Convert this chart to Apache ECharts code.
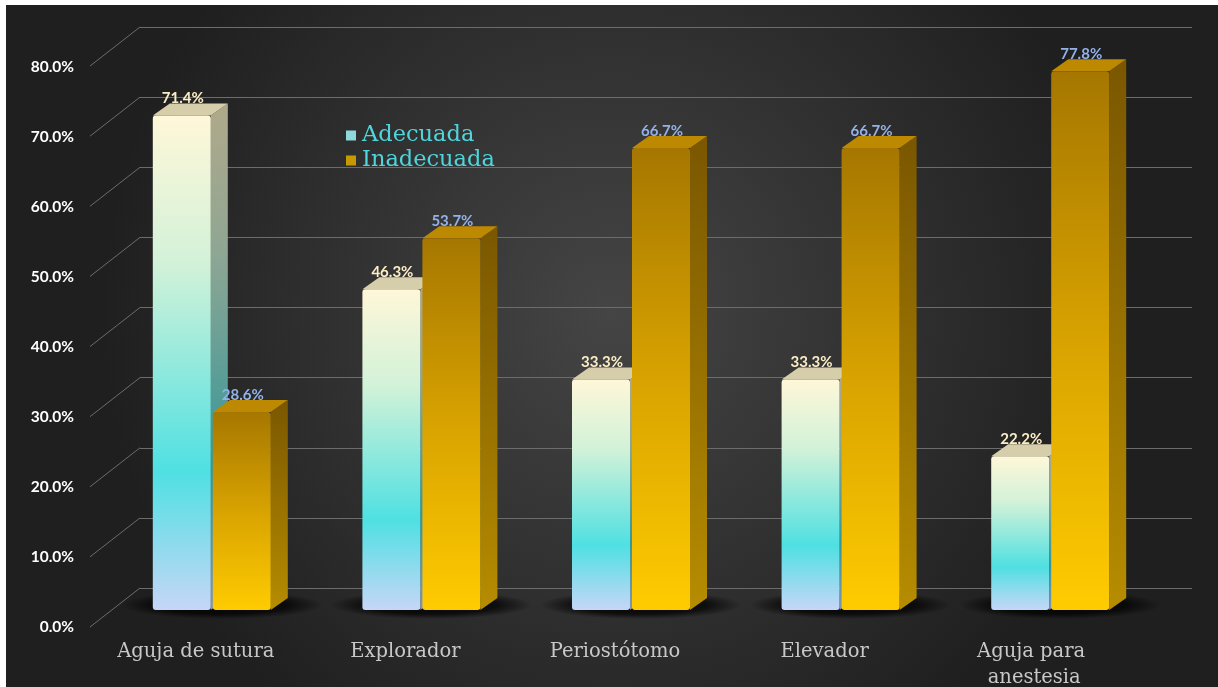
<!DOCTYPE html>
<html>
<head>
<meta charset="utf-8">
<script src="https://cdn.jsdelivr.net/npm/echarts@6/dist/echarts.min.js"></script>
<style>
  html, body { margin: 0; padding: 0; background: #ffffff; }
  #chart { width: 1218px; height: 687px; }
</style>
</head>
<body>
<div id="chart"></div>
<script>
// Instrument ratings (percent of responses)
const categories = ['Aguja de sutura', 'Explorador', 'Periostótomo', 'Elevador', 'Aguja para anestesia'];
const adecuada = [71.4, 46.3, 33.3, 33.3, 22.2];
const inadecuada = [28.6, 53.7, 66.7, 66.7, 77.8];
const seriesNames = ['Adecuada', 'Inadecuada'];
const gridTicks = [0, 10, 20, 30, 40, 50, 60, 70, 80];

const chart = echarts.init(document.getElementById('chart'), null, { renderer: 'canvas' });
const LG = echarts.graphic.LinearGradient;
const RG = echarts.graphic.RadialGradient;

// bar box geometry
const BAR_W = 58, DEPTH_X = 17, DEPTH_Y = 12;

const faces = [
  {
    front: [[0, '#fff7d8'], [0.3, '#d2f2d8'], [0.72, '#4fe0e2'], [1, '#c6d6f7']],
    side:  [[0, '#b0a98a'], [0.3, '#8ea694'], [0.72, '#35979a'], [1, '#8294b0']],
    top: '#d6ceab',
    label: '#fbeec6'
  },
  {
    front: [[0, '#a67700'], [0.5, '#d8a300'], [1, '#ffcb00']],
    side:  [[0, '#7a5700'], [1, '#b68c00']],
    top: '#bc8900',
    label: '#93b2ea'
  }
];

function barItem(k) {
  const f = faces[k];
  return function (params, api) {
    const idx = api.value(0);
    const v = api.value(1);
    const base = api.coord([idx, 0]);
    const topP = api.coord([idx, v]);
    const x0 = k === 0 ? base[0] - BAR_W - 1 : base[0] + 1;
    const x1 = x0 + BAR_W;
    const yb = base[1], yt = topP[1];
    return {
      type: 'group',
      children: [
        {
          type: 'polygon',
          shape: { points: [[x1, yt], [x1 + DEPTH_X, yt - DEPTH_Y], [x1 + DEPTH_X, yb - DEPTH_Y], [x1, yb]] },
          style: { fill: new LG(0, 0, 0, 1, f.side.map(s => ({ offset: s[0], color: s[1] }))) }
        },
        {
          type: 'polygon',
          shape: { points: [[x0, yt], [x0 + DEPTH_X, yt - DEPTH_Y], [x1 + DEPTH_X, yt - DEPTH_Y], [x1, yt]] },
          style: { fill: f.top }
        },
        {
          type: 'rect',
          shape: { x: x0, y: yt, width: BAR_W, height: yb - yt, r: 3 },
          style: { fill: new LG(0, 0, 0, 1, f.front.map(s => ({ offset: s[0], color: s[1] }))) }
        },
        {
          type: 'text',
          x: x0 + BAR_W / 2 + 1,
          y: yt - 17,
          style: {
            text: v.toFixed(1) + '%',
            fill: f.label,
            font: 'bold 15px Lato, "Open Sans", sans-serif',
            align: 'center',
            verticalAlign: 'middle'
          }
        }
      ]
    };
  };
}

// soft floor shadow under each pair of bars (a round gradient stretched sideways)
function shadowItem(params, api) {
  const base = api.coord([api.value(0), 0]);
  return {
    type: 'circle',
    x: base[0] + 10, y: base[1] - 5,
    scaleX: 7.2, scaleY: 1,
    shape: { cx: 0, cy: 0, r: 14 },
    style: {
      fill: new RG(0.5, 0.5, 0.5, [
        { offset: 0, color: 'rgba(0,0,0,0.9)' },
        { offset: 0.65, color: 'rgba(0,0,0,0.7)' },
        { offset: 1, color: 'rgba(0,0,0,0)' }
      ])
    }
  };
}

// diagonal lines joining the front tick marks to the back wall
function diagItem(params, api) {
  const p = api.coord([0, api.value(0)]);
  return {
    type: 'line',
    shape: { x1: p[0], y1: p[1], x2: p[0] - 50, y2: p[1] + 39 },
    style: { stroke: '#6c6c6c', lineWidth: 1 }
  };
}

const option = {
  backgroundColor: '#ffffff',
  animation: false,
  graphic: [{
    type: 'rect', z: -10, silent: true,
    shape: { x: 6, y: 5, width: 1212, height: 682 },
    style: {
      fill: new RG(0.5, 0.45, 0.75, [
        { offset: 0, color: '#454545' },
        { offset: 1, color: '#1f1f1f' }
      ])
    }
  }],
  legend: {
    data: seriesNames,
    orient: 'vertical',
    left: 341, top: 119,
    itemWidth: 10, itemHeight: 10, itemGap: 2,
    icon: 'rect',
    textStyle: { color: '#4fd6dc', fontFamily: '"DejaVu Serif", serif', fontSize: 22.5, lineHeight: 20, padding: [0, 0, 0, 1] }
  },
  grid: [
    { left: 91, right: 79, top: 67, bottom: 60, outerBoundsMode: 'none' },   // front plane (labels)
    { left: 140, right: 26, top: 27, bottom: 99, outerBoundsMode: 'none' },  // back wall
    { left: 107, right: 63, top: 56, bottom: 77, outerBoundsMode: 'none' }   // bars
  ],
  xAxis: [
    {
      gridIndex: 0, type: 'category', data: categories,
      axisLine: { show: false }, axisTick: { show: false }, splitLine: { show: false },
      axisLabel: {
        interval: 0, margin: 12, color: '#c8c8c8',
        fontFamily: '"DejaVu Serif", serif', fontSize: 19.5, lineHeight: 26,
        width: 172, overflow: 'break'
      }
    },
    { gridIndex: 1, type: 'value', min: 0, max: 1, show: false },
    { gridIndex: 2, type: 'category', data: categories, show: false }
  ],
  yAxis: [
    {
      gridIndex: 0, type: 'value', min: 0, max: 80, interval: 10,
      axisLine: { show: false }, axisTick: { show: false }, splitLine: { show: false },
      axisLabel: {
        margin: 17, color: '#ffffff', fontWeight: 'bold', fontSize: 15.5,
        fontFamily: 'Lato, "Open Sans", sans-serif',
        formatter: v => v.toFixed(1) + '%'
      }
    },
    {
      gridIndex: 1, type: 'value', min: 0, max: 80, interval: 10,
      axisLine: { show: false }, axisTick: { show: false }, axisLabel: { show: false },
      splitLine: { lineStyle: { color: '#6c6c6c', width: 1 } }
    },
    { gridIndex: 2, type: 'value', min: 0, max: 80, show: false }
  ],
  series: [
    {
      type: 'custom', xAxisIndex: 1, yAxisIndex: 1, silent: true,
      data: gridTicks.map(t => [t]), encode: { y: 0 },
      renderItem: diagItem
    },
    {
      type: 'custom', xAxisIndex: 2, yAxisIndex: 2, silent: true,
      data: categories.map((c, i) => [i, 0]),
      renderItem: shadowItem
    },
    {
      name: seriesNames[0], type: 'custom', xAxisIndex: 2, yAxisIndex: 2,
      itemStyle: { color: '#8fd8dc' },
      data: adecuada.map((v, i) => [i, v]),
      renderItem: barItem(0)
    },
    {
      name: seriesNames[1], type: 'custom', xAxisIndex: 2, yAxisIndex: 2,
      itemStyle: { color: '#c89800' },
      data: inadecuada.map((v, i) => [i, v]),
      renderItem: barItem(1)
    }
  ]
};

chart.setOption(option);
</script>
</body>
</html>
